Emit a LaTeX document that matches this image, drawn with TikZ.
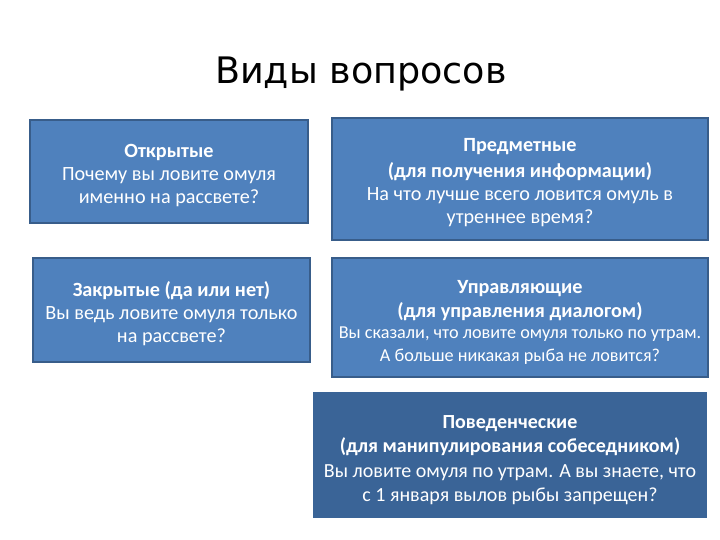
\documentclass[tikz,border=0pt]{standalone}
\usepackage{fontspec}
\setmainfont{Carlito}
\newfontfamily\titlefont{DejaVu Sans}
\definecolor{boxfill}{HTML}{4F81BD}
\definecolor{boxline}{HTML}{385D8A}
\definecolor{darkfill}{HTML}{3A6497}
\begin{document}
\begin{tikzpicture}[x=1bp,y=-1bp,
  qbox/.style={draw=boxline, line width=1.5bp, fill=boxfill, inner sep=0pt},
  darkbox/.style={fill=darkfill, inner sep=0pt},
  qtext/.style={text=white, align=center, inner sep=0pt,
    font=\fontsize{20.2bp}{23bp}\selectfont},
  dtext/.style={text=white, align=center, inner sep=0pt,
    font=\fontsize{20bp}{24.5bp}\selectfont}]
\useasboundingbox[fill=white] (0,0) rectangle (720,540);
\node[font=\titlefont\fontsize{36.5bp}{40bp}\selectfont, anchor=base] (title) at (361,84) {Виды вопросов};
\node[qbox, minimum width=278bp, minimum height=103bp] (open) at (169,171.5) {};
\node[qtext] (openT) at ([yshift=-4.5bp]open.center)
  {\textbf{Открытые}\\Почему вы ловите омуля\\именно на рассвете?};
\node[qbox, minimum width=277bp, minimum height=104bp] (closed) at (171.5,310) {};
\node[qtext] (closedT) at ([yshift=-4bp]closed.center)
  {\textbf{Закрытые (да или нет)}\\Вы ведь ловите омуля только\\на рассвете?};
\node[qbox, minimum width=376bp, minimum height=122bp] (subj) at (520,179) {};
\node[qtext] (subjT) at ([yshift=-4bp]subj.center)
  {\textbf{Предметные}\\[3bp]\textbf{(для получения информации)}\\На что лучше всего ловится омуль в\\утреннее время?};
\node[qbox, minimum width=376bp, minimum height=119bp] (ctrl) at (520,317.5) {};
\node[qtext] (ctrlT) at ([yshift=-5bp]ctrl.center)
  {\textbf{Управляющие}\\[1bp]\textbf{(для управления диалогом)}\\[-2bp]{\fontsize{18.2bp}{22bp}\selectfont Вы сказали, что ловите омуля только по утрам.}\\{\fontsize{18.2bp}{22bp}\selectfont А больше никакая рыба не ловится?}};
\node[darkbox, minimum width=394bp, minimum height=126bp] (behav) at (510,455) {};
\node[dtext] (behavT) at ([yshift=-5bp]behav.center)
  {\textbf{Поведенческие}\\\textbf{(для манипулирования собеседником)}\\Вы ловите омуля по утрам. А вы знаете, что\\с 1 января вылов рыбы запрещен?};
\end{tikzpicture}
\end{document}
